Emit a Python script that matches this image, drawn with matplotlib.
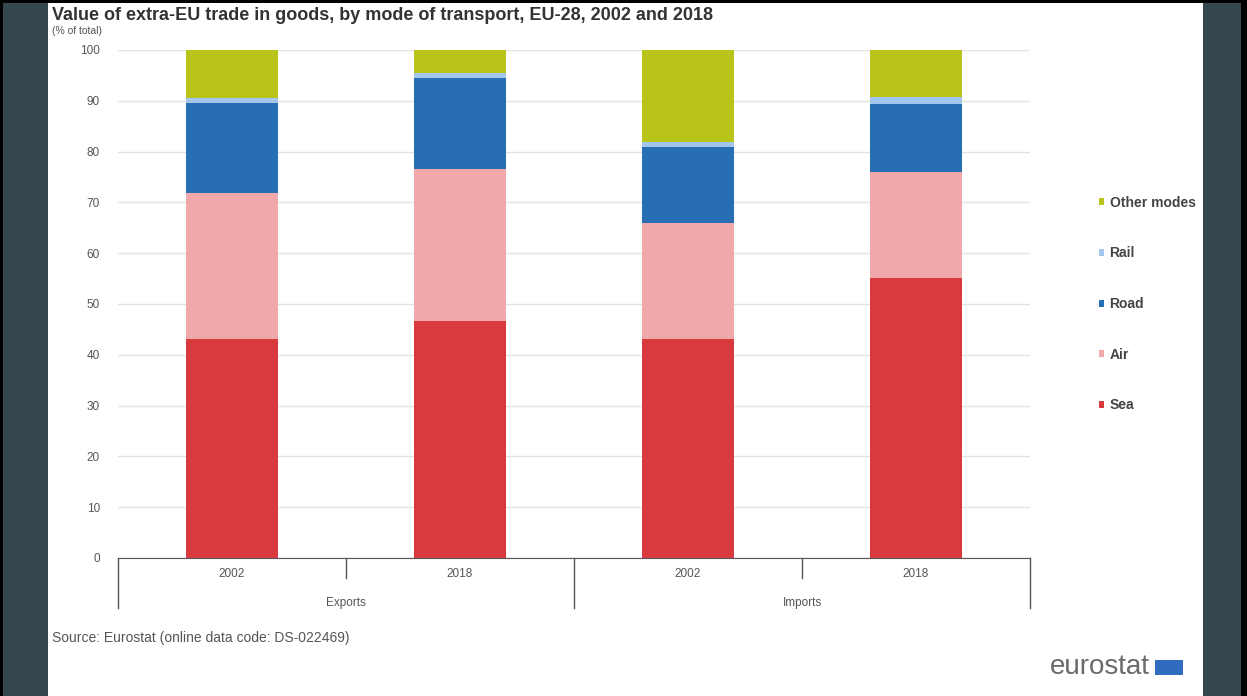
import matplotlib.pyplot as plt
from matplotlib.patches import Rectangle, Patch
import numpy as np

plt.rcParams['font.family'] = ['Liberation Sans', 'DejaVu Sans']

# extra-EU trade by mode of transport, % of total
groups = ['Exports', 'Imports']
years = ['2002', '2018', '2002', '2018']
modes = ['Sea', 'Air', 'Road', 'Rail', 'Other modes']
sea = [43.2, 46.7, 43.2, 55.1]
air = [28.6, 29.8, 22.8, 20.8]
road = [17.8, 18.0, 14.9, 13.5]
rail = [1.0, 1.0, 1.0, 1.3]
other = [9.4, 4.5, 18.1, 9.3]
colors = ['#d93a3e', '#f0a8ab', '#286eb4', '#a3c6ee', '#b9c41a']

W, H = 1247, 696
fig = plt.figure(figsize=(W / 100, H / 100), dpi=100)
fig.patch.set_facecolor('#36474f')

# white card + thin black edges (behind the axes)
for (x0, y0, w, h, c) in [(48, 0, 1203 - 48, H, 'white'), (1241, 0, 6, H, 'black'),
                          (0, 0, 3, H, 'black'), (0, H - 3, W, 3, 'black')]:
    fig.patches.append(Rectangle((x0 / W, y0 / H), w / W, h / H, transform=fig.transFigure,
                                 facecolor=c, edgecolor='none', zorder=-5))

ax = fig.add_axes([118 / W, (H - 558) / H, (1030 - 118) / W, (558 - 50) / H])
ax.set_facecolor('white')

x = np.arange(len(years))
series = [sea, air, road, rail, other]
bottom = np.zeros(len(years))
for vals, name, c in zip(series, modes, colors):
    ax.bar(x, vals, 0.4, bottom=bottom, color=c, label=name, zorder=3)
    bottom += np.array(vals)

ax.set_xlim(-0.5, 3.5)
ax.set_ylim(0, 100)
ax.set_yticks(range(0, 101, 10))
ax.grid(axis='y', color='#e3e3e3', lw=1, zorder=0)
ax.tick_params(axis='y', length=0, pad=13, labelsize=8.5, labelcolor='#555555')
ax.set_xticks(x)
ax.set_xticklabels(years)
ax.tick_params(axis='x', length=0, pad=7, labelsize=8.5, labelcolor='#555555')
for s in ['top', 'right', 'left']:
    ax.spines[s].set_visible(False)
ax.spines['bottom'].set_color('#555555')

# group separators below the axis
tr = ax.get_xaxis_transform()
px = 1 / 508
for xs in [0.5, 2.5]:
    ax.plot([xs, xs], [0, -20 * px], color='#555555', lw=1, transform=tr, clip_on=False)
for xs in [-0.5, 1.5, 3.5]:
    ax.plot([xs, xs], [0, -50 * px], color='#555555', lw=1, transform=tr, clip_on=False)
for i, g in enumerate(groups):
    ax.text(2 * i + 0.5, -45 * px, g, transform=tr, ha='center', va='center',
            fontsize=8.5, color='#555555')

fig.text(52 / W, 1 - 16 / H, 'Value of extra-EU trade in goods, by mode of transport, EU-28, 2002 and 2018',
         fontsize=13, fontweight='bold', color='#333333', va='center')
fig.text(52 / W, 1 - 31 / H, '(% of total)', fontsize=7.5, color='#555555', va='center')
fig.text(52 / W, 1 - 638 / H, 'Source: Eurostat (online data code: DS-022469)', fontsize=10,
         color='#555555', va='center')

handles = [Patch(facecolor=c, label=m) for m, c in zip(modes, colors)][::-1]
fig.legend(handles=handles, loc='center left', bbox_to_anchor=(1086 / W, 1 - 304 / H),
           frameon=False, prop={'size': 10, 'weight': 'bold'}, labelcolor='#444444',
           handlelength=0.4, handleheight=0.4, handletextpad=0.4, labelspacing=2.63)

# eurostat logo text
fig.text(1150 / W, 1 - 667 / H, 'eurostat', fontsize=20, color='#6b6b6b', ha='right', va='center')
fig.patches.append(Rectangle((1155 / W, 1 - 675 / H), 28 / W, 15 / H, transform=fig.transFigure,
                             facecolor='#2f6cc0', edgecolor='none'))

fig.savefig('out.png', dpi=100, facecolor=fig.get_facecolor())
